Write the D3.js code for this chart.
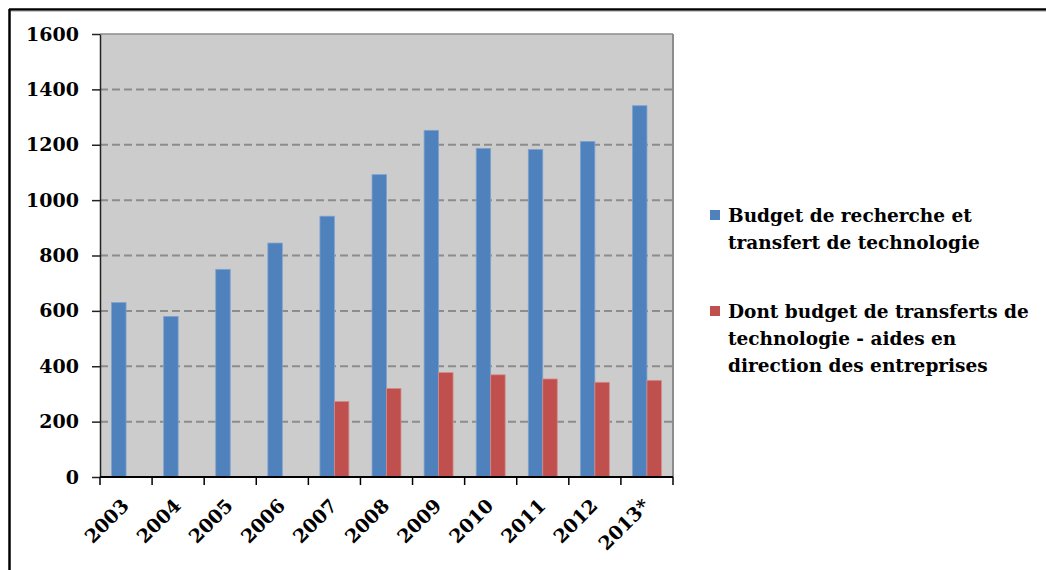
<!DOCTYPE html>
<html><head><meta charset="utf-8">
<script src="https://cdn.jsdelivr.net/npm/d3@7"></script>
<style>body{margin:0;background:#fff}svg{display:block}</style>
</head><body>
<svg id="c" width="1046" height="570"></svg>
<script>
const categories = ["2003","2004","2005","2006","2007","2008","2009","2010","2011","2012","2013*"];
const budgetRecherche = [630,580,750,845,942,1092,1252,1187,1183,1212,1341];
const budgetTransferts = [null,null,null,null,273,320,377,369,354,342,349];
const seriesNames = ["Budget de recherche et|transfert de technologie","Dont budget de transferts de|technologie - aides en|direction des entreprises"];
const yTicks = [0,200,400,600,800,1000,1200,1400,1600];

const colors = ["#4f81bd","#c0504d"];
const font = "'DejaVu Serif', serif";
const svg = d3.select("#c");
// outer border
svg.append("line").attr("x1",9).attr("x2",1046).attr("y1",9.5).attr("y2",9.5).attr("stroke","#000").attr("stroke-width",2.5);
svg.append("line").attr("x1",9.5).attr("x2",9.5).attr("y1",9).attr("y2",570).attr("stroke","#000").attr("stroke-width",2.5);
svg.append("line").attr("x1",11).attr("x2",1046).attr("y1",11.3).attr("y2",11.3).attr("stroke","#bbb").attr("stroke-width",1);

const L=100, R=673, T=34, B=477;
const x = d3.scaleBand().domain(categories).range([L,R]).paddingInner(0).paddingOuter(0);
const y = d3.scaleLinear().domain([0,1600]).range([B,T]);
const x1 = d3.scaleBand().domain([0,1]).range([0,x.bandwidth()]).paddingOuter(0.8).paddingInner(0);

svg.append("rect").attr("x",L).attr("y",T).attr("width",R-L).attr("height",B-T).attr("fill","#cccccc");
// gridlines
svg.append("g").selectAll("line").data(yTicks.filter(d=>d>0&&d<1600)).join("line")
  .attr("x1",L).attr("x2",R).attr("y1",d=>y(d)).attr("y2",d=>y(d))
  .attr("stroke","#8c8c8c").attr("stroke-width",2).attr("stroke-dasharray","8,4");
// plot border
svg.append("line").attr("x1",L).attr("x2",R).attr("y1",T).attr("y2",T).attr("stroke","#8c8c8c").attr("stroke-width",1.5);
svg.append("line").attr("x1",R).attr("x2",R).attr("y1",T).attr("y2",B).attr("stroke","#8c8c8c").attr("stroke-width",2);

const series=[budgetRecherche,budgetTransferts];
series.forEach((vals,si)=>{
  svg.append("g").selectAll("rect").data(categories.map((c,i)=>({c,v:vals[i]})).filter(d=>d.v!=null)).join("rect")
    .attr("x",d=>x(d.c)+x1(si)).attr("width",x1.bandwidth())
    .attr("y",d=>y(d.v)).attr("height",d=>B-y(d.v))
    .attr("fill",colors[si]).attr("stroke",si==0?"#7ea3d0":"#d58a88").attr("stroke-width",0.8);
});

// y axis
const ya = svg.append("g").attr("transform",`translate(${L},0)`).call(d3.axisLeft(y).tickValues(yTicks).tickFormat(d3.format("d")).tickSize(8).tickSizeOuter(0).tickPadding(13));
ya.select(".domain").attr("stroke","#222").attr("stroke-width",1.5);
ya.selectAll(".tick line").attr("stroke","#222").attr("stroke-width",1.5);
ya.selectAll("text").attr("font-family",font).attr("font-weight","bold").attr("font-size","19px").attr("fill","#000");

// x axis
const xa = svg.append("g").attr("transform",`translate(0,${B})`);
xa.append("line").attr("x1",L).attr("x2",R).attr("y1",0).attr("y2",0).attr("stroke","#000").attr("stroke-width",2);
const bounds = categories.map(c=>x(c)).concat([R]);
xa.selectAll("line.t").data(bounds).join("line").attr("class","t")
  .attr("x1",d=>d).attr("x2",d=>d).attr("y1",0).attr("y2",8).attr("stroke","#000").attr("stroke-width",1.5);
xa.selectAll("text").data(categories).join("text")
  .attr("transform",d=>`translate(${x(d)+x.bandwidth()/2+4},${30}) rotate(-45)`)
  .attr("text-anchor","end")
  .attr("font-family",font).attr("font-weight","bold").attr("font-size","19px").attr("fill","#000")
  .text(d=>d);

// legend
const lg = svg.append("g");
const legY=[222,318];
seriesNames.forEach((n,i)=>{
  lg.append("rect").attr("x",710).attr("y",legY[i]-12).attr("width",10).attr("height",10).attr("fill",colors[i]);
  n.split("|").forEach((line,j)=>{
    lg.append("text").attr("x",728).attr("y",legY[i]+j*27).text(line)
      .attr("font-family",font).attr("font-weight","bold").attr("font-size","18.5px").attr("fill","#000");
  });
});
</script>
</body></html>
